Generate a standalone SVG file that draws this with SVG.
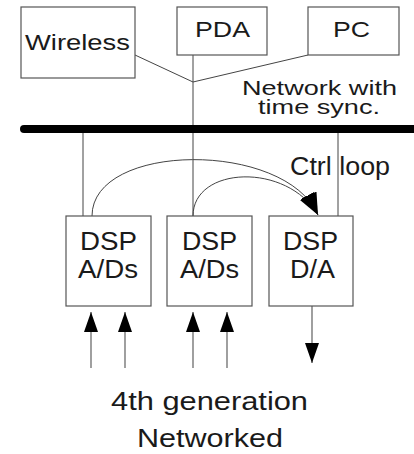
<svg xmlns="http://www.w3.org/2000/svg" width="414" height="454" viewBox="0 0 414 454">
<style>
  .box { fill: #fff; stroke: #555; stroke-width: 1.2; }
  .t { font-family: "Liberation Sans", Arial, sans-serif; fill: #1a1a1a; font-size: 25px; }
  .s { font-size: 22px; }
  .n { font-size: 21px; }
  .thin { stroke: #444; stroke-width: 1; fill: none; }
  .io { stroke: #888; stroke-width: 1.6; fill: none; }
  .curve { stroke: #444; stroke-width: 1; fill: none; marker-end: url(#bigHead); }
</style>
<defs>
  <marker id="head" viewBox="0 0 20 14" markerWidth="20" markerHeight="14" refX="20" refY="7" orient="auto" markerUnits="userSpaceOnUse">
    <path d="M0,0 L20,7 L0,14 z" fill="#000"/>
  </marker>
  <marker id="bigHead" viewBox="0 0 22 16" markerWidth="22" markerHeight="16" refX="22" refY="8" orient="auto" markerUnits="userSpaceOnUse">
    <path d="M0,0 L22,8 L0,16 z" fill="#000"/>
  </marker>
</defs>
<rect width="414" height="454" fill="#fff"/>

<g id="connectors">
  <line class="thin" x1="135" y1="55" x2="193" y2="82"/>
  <line class="thin" x1="308" y1="55" x2="193" y2="82"/>
  <line class="thin" x1="193" y1="55" x2="193" y2="216"/>
  <line class="thin" x1="83" y1="129" x2="83" y2="216"/>
  <line class="thin" x1="338" y1="129" x2="338" y2="216"/>
  <line x1="24" y1="129" x2="414" y2="129" stroke="#000" stroke-width="8" stroke-linecap="round"/>
  <path class="curve" d="M92,216 C92,142 285,140 318,215"/>
  <path class="curve" d="M193,216 C193,166 287,162 318,215"/>
  <line class="io" x1="91" y1="368" x2="91" y2="312" marker-end="url(#head)"/>
  <line class="io" x1="125" y1="368" x2="125" y2="312" marker-end="url(#head)"/>
  <line class="io" x1="193" y1="368" x2="193" y2="312" marker-end="url(#head)"/>
  <line class="io" x1="227" y1="368" x2="227" y2="312" marker-end="url(#head)"/>
  <line class="io" x1="312" y1="306" x2="312" y2="363" marker-end="url(#head)"/>
</g>

<g id="wireless">
  <rect class="box" x="21" y="7" width="114" height="71"/>
  <text class="t s" x="25" y="50" textLength="105" lengthAdjust="spacingAndGlyphs">Wireless</text>
</g>
<g id="pda">
  <rect class="box" x="177" y="7" width="90" height="48"/>
  <text class="t s" x="195" y="37" textLength="55" lengthAdjust="spacingAndGlyphs">PDA</text>
</g>
<g id="pc">
  <rect class="box" x="308" y="7" width="91" height="48"/>
  <text class="t s" x="333" y="37" textLength="37" lengthAdjust="spacingAndGlyphs">PC</text>
</g>
<g id="network-label">
  <text class="t n" x="242" y="95" textLength="155" lengthAdjust="spacingAndGlyphs">Network with</text>
  <text class="t n" x="258" y="114" textLength="122" lengthAdjust="spacingAndGlyphs">time sync.</text>
</g>
<g id="ctrl-label">
  <text class="t" x="290" y="175" textLength="100" lengthAdjust="spacingAndGlyphs">Ctrl loop</text>
</g>
<g id="dsp1">
  <rect class="box" x="66" y="216" width="85" height="90"/>
  <text class="t" x="80" y="250" textLength="57" lengthAdjust="spacingAndGlyphs">DSP</text>
  <text class="t" x="78" y="278" textLength="60" lengthAdjust="spacingAndGlyphs">A/Ds</text>
</g>
<g id="dsp2">
  <rect class="box" x="167" y="216" width="85" height="90"/>
  <text class="t" x="182" y="250" textLength="55" lengthAdjust="spacingAndGlyphs">DSP</text>
  <text class="t" x="180" y="278" textLength="59" lengthAdjust="spacingAndGlyphs">A/Ds</text>
</g>
<g id="dsp3">
  <rect class="box" x="269" y="216" width="84" height="90"/>
  <text class="t" x="283" y="250" textLength="55" lengthAdjust="spacingAndGlyphs">DSP</text>
  <text class="t" x="290" y="278" textLength="45" lengthAdjust="spacingAndGlyphs">D/A</text>
</g>
<g id="caption">
  <text class="t" x="111" y="410" textLength="197" lengthAdjust="spacingAndGlyphs">4th generation</text>
  <text class="t" x="137" y="447" textLength="146" lengthAdjust="spacingAndGlyphs">Networked</text>
</g>
</svg>
